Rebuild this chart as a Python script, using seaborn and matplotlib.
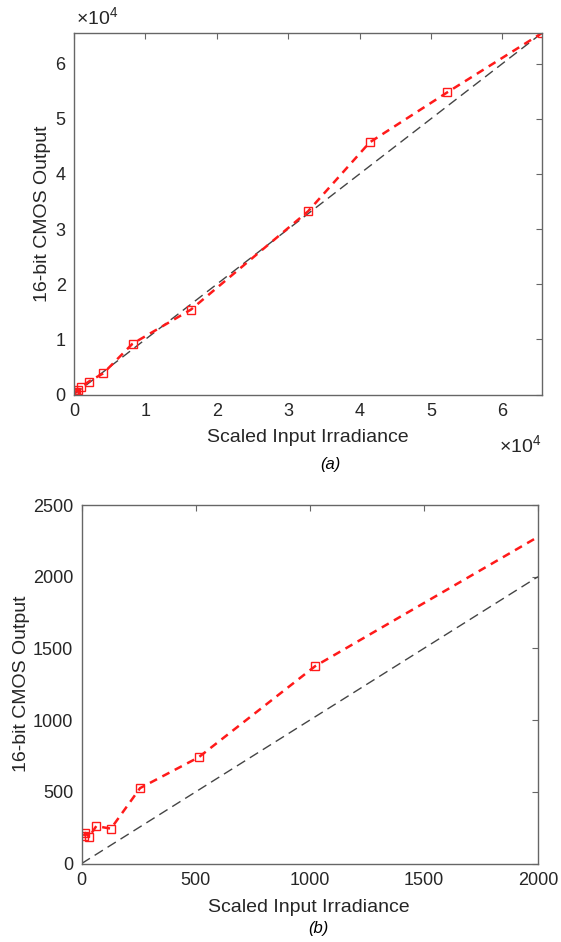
import matplotlib
matplotlib.use("Agg")
import matplotlib.pyplot as plt
import seaborn as sns
import numpy as np
from matplotlib.ticker import FuncFormatter

sns.set_style("white")
plt.rcParams['font.family'] = ['Liberation Sans', 'DejaVu Sans']
plt.rcParams['mathtext.fontset'] = 'custom'
plt.rcParams['mathtext.rm'] = 'Liberation Sans'

# Data
scaled_input = [8, 16, 32, 64, 128, 256, 512, 1024, 2048, 4096, 8192,
                16384, 32768, 41400, 52300, 65535]
cmos_output = [192, 213, 185, 261, 243, 526, 740, 1377, 2322, 3830, 9200,
               15400, 33200, 45700, 54800, 65535]
identity_a = [0, 65535]
identity_b = [0, 2000]

xticks_a = [0, 10000, 20000, 30000, 40000, 50000, 60000]
yticks_a = [0, 10000, 20000, 30000, 40000, 50000, 60000]
xticks_b = [0, 500, 1000, 1500, 2000]
yticks_b = [0, 500, 1000, 1500, 2000, 2500]

W, H = 561, 942
fig = plt.figure(figsize=(W / 100, H / 100), dpi=100)

def rect(l, r, t, b):
    return [l / W, (H - b) / H, (r - l) / W, (b - t) / H]

ax1 = fig.add_axes(rect(74, 542, 33, 394.5))
ax2 = fig.add_axes(rect(81.7, 538, 505, 863.5))

spine_col = '#666666'
tick_fs = 13
label_fs = 14

def style(ax):
    for s in ax.spines.values():
        s.set_color(spine_col)
        s.set_linewidth(1.0)
        s.set_visible(True)
    ax.tick_params(direction='in', length=4, width=0.8, color=spine_col,
                   top=True, right=True, labelsize=tick_fs, labelcolor='#262626',
                   pad=6)
    ax.grid(False)

for ax, ident, xl, yl in [(ax1, identity_a, 65535, 65535), (ax2, identity_b, 2000, 2500)]:
    sns.lineplot(x=ident, y=ident, ax=ax, color='#444444', linewidth=1.0,
                 dashes=False, linestyle=(0, (7, 4)), sort=False)
    sns.lineplot(x=scaled_input, y=cmos_output, ax=ax, color='#ff1a1a',
                 linewidth=1.8, linestyle=(0, (3.2, 2.4)), marker='s',
                 markersize=6, markerfacecolor='none', markeredgecolor='#ff1a1a',
                 markeredgewidth=1.0, sort=False)
    ax.set_xlim(0, xl)
    ax.set_ylim(0, yl)
    style(ax)

ax1.set_xticks(xticks_a)
ax1.set_yticks(yticks_a)
fmt = FuncFormatter(lambda v, p: f"{v / 1e4:g}")
ax1.xaxis.set_major_formatter(fmt)
ax1.yaxis.set_major_formatter(fmt)
ax2.set_xticks(xticks_b)
ax2.set_yticks(yticks_b)

for ax in (ax1, ax2):
    ax.set_xlabel("Scaled Input Irradiance", fontsize=label_fs, color='#262626', labelpad=4)
    ax.set_ylabel("16-bit CMOS Output", fontsize=label_fs, color='#262626', labelpad=6)

ax1.xaxis.set_label_coords((308 - 74) / (542 - 74), -(438 - 394.5) / (394.5 - 33))
ax1.yaxis.set_label_coords(-(74 - 43) / (542 - 74), 0.5)
ax2.xaxis.set_label_coords((309 - 81.7) / (538 - 81.7), -(907 - 863.5) / (863.5 - 505))
ax2.yaxis.set_label_coords(-(81.7 - 22) / (538 - 81.7), 0.5)
for ax in (ax1, ax2):
    ax.xaxis.label.set_va('center')
    ax.yaxis.label.set_va('center')

fig.text(76 / W, 1 - 18 / H, r"$\times10^4$", fontsize=14, color='#262626', ha='left', va='center')
fig.text(499 / W, 1 - 446 / H, r"$\times10^4$", fontsize=14, color='#262626', ha='left', va='center')

fig.text(330 / W, 1 - 465 / H, "(a)", fontsize=12, style='italic', ha='center', va='center', color='black')
fig.text(318 / W, 1 - 929 / H, "(b)", fontsize=12, style='italic', ha='center', va='center', color='black')

fig.savefig("out.png", dpi=100, facecolor='white')
